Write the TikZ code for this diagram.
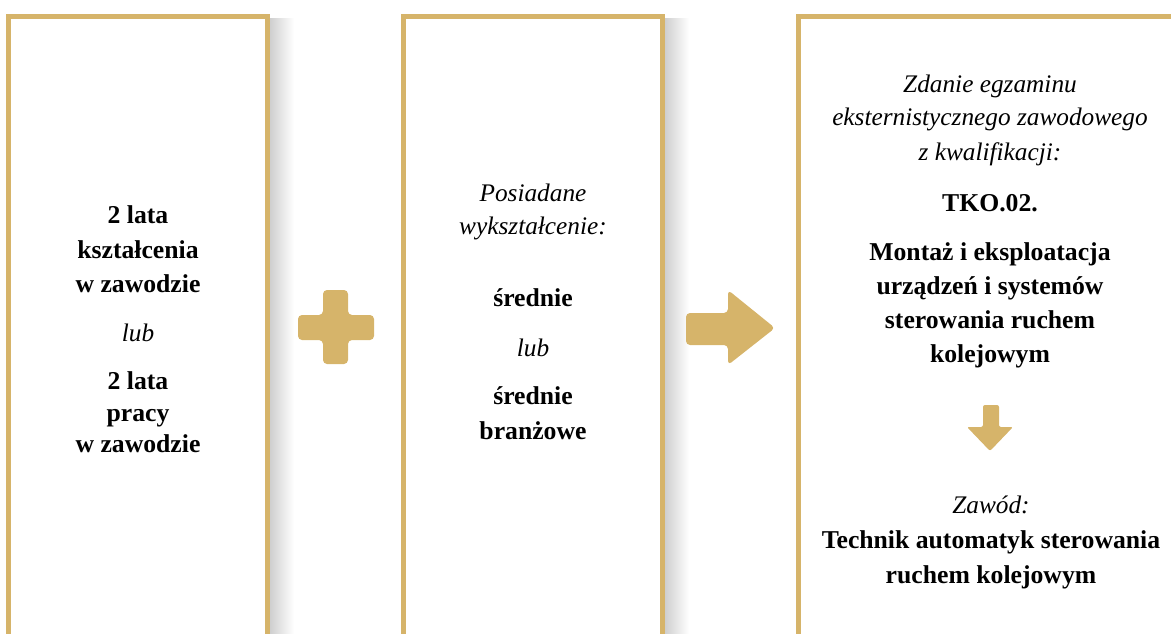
\documentclass[tikz,border=0pt]{standalone}
\usepackage{fontspec}
\setmainfont{Liberation Serif}
\definecolor{gold}{HTML}{D6B46A}
\begin{document}
\begin{tikzpicture}[x=1pt,y=-1pt,
  frame/.style={draw=gold, line width=5pt},
  txt/.style={anchor=base, inner sep=0pt, font=\fontsize{25}{34}\selectfont},
  bt/.style={txt, font=\fontsize{25.7}{34}\selectfont\bfseries},
  it/.style={txt, font=\fontsize{25.3}{34}\selectfont\itshape},
  symb/.style={fill=gold, rounded corners=4pt}]
\useasboundingbox (0,0) rectangle (1171,633);
% shadows
\shade[left color=black!19, right color=white] (270,18) rectangle (294,660);
\shade[left color=black!19, right color=white] (665,18) rectangle (689,660);
% frames
\draw[frame] (8.5,680) -- (8.5,16.5) -- (267.5,16.5) -- (267.5,680);
\draw[frame] (403.5,680) -- (403.5,16.5) -- (662.5,16.5) -- (662.5,680);
\draw[frame] (798,680) -- (798,16.5) -- (1182,16.5) -- (1182,680);
% plus
\fill[symb] (323,290) -- (348,290) -- (348,315) -- (374,315) -- (374,340) -- (348,340)
  -- (348,364) -- (323,364) -- (323,340) -- (298,340) -- (298,315) -- (323,315) -- cycle;
% right arrow
\fill[symb] (686,313) -- (728,313) -- (728,290) -- (775,328) -- (728,365) -- (728,345)
  -- (686,345) -- cycle;
% down arrow
\fill[fill=gold, rounded corners=2pt] (983,405) -- (999,405) -- (999,427) -- (1013,427)
  -- (990,451) -- (967,427) -- (983,427) -- cycle;
% box 1
\node[bt] (a1) at (138,223) {2 lata};
\node[bt] (a2) at (138,258) {kształcenia};
\node[bt] (a3) at (138,292) {w zawodzie};
\node[it] (a4) at (138,341) {lub};
\node[bt] (a5) at (138,389) {2 lata};
\node[bt] (a6) at (138,421) {pracy};
\node[bt] (a7) at (138,452) {w zawodzie};
% box 2
\node[it] (b1) at (533,201) {Posiadane};
\node[it] (b2) at (533,234) {wykształcenie:};
\node[bt] (b3) at (533,306) {średnie};
\node[it] (b4) at (533,356) {lub};
\node[bt] (b5) at (533,404) {średnie};
\node[bt] (b6) at (533,439) {branżowe};
% box 3
\node[it] (c1) at (990,92) {Zdanie egzaminu};
\node[it] (c2) at (990,125) {eksternistycznego zawodowego};
\node[it] (c3) at (990,160) {z kwalifikacji:};
\node[bt] (c4) at (990,211) {TKO.02.};
\node[bt] (c5) at (990,260) {Montaż i eksploatacja};
\node[bt] (c6) at (990,294) {urządzeń i systemów};
\node[bt] (c7) at (990,328) {sterowania ruchem};
\node[bt] (c8) at (990,362) {kolejowym};
\node[it] (c9) at (991,513) {Zawód:};
\node[bt] (c10) at (991,548) {Technik automatyk sterowania};
\node[bt] (c11) at (991,583) {ruchem kolejowym};
\end{tikzpicture}
\end{document}
